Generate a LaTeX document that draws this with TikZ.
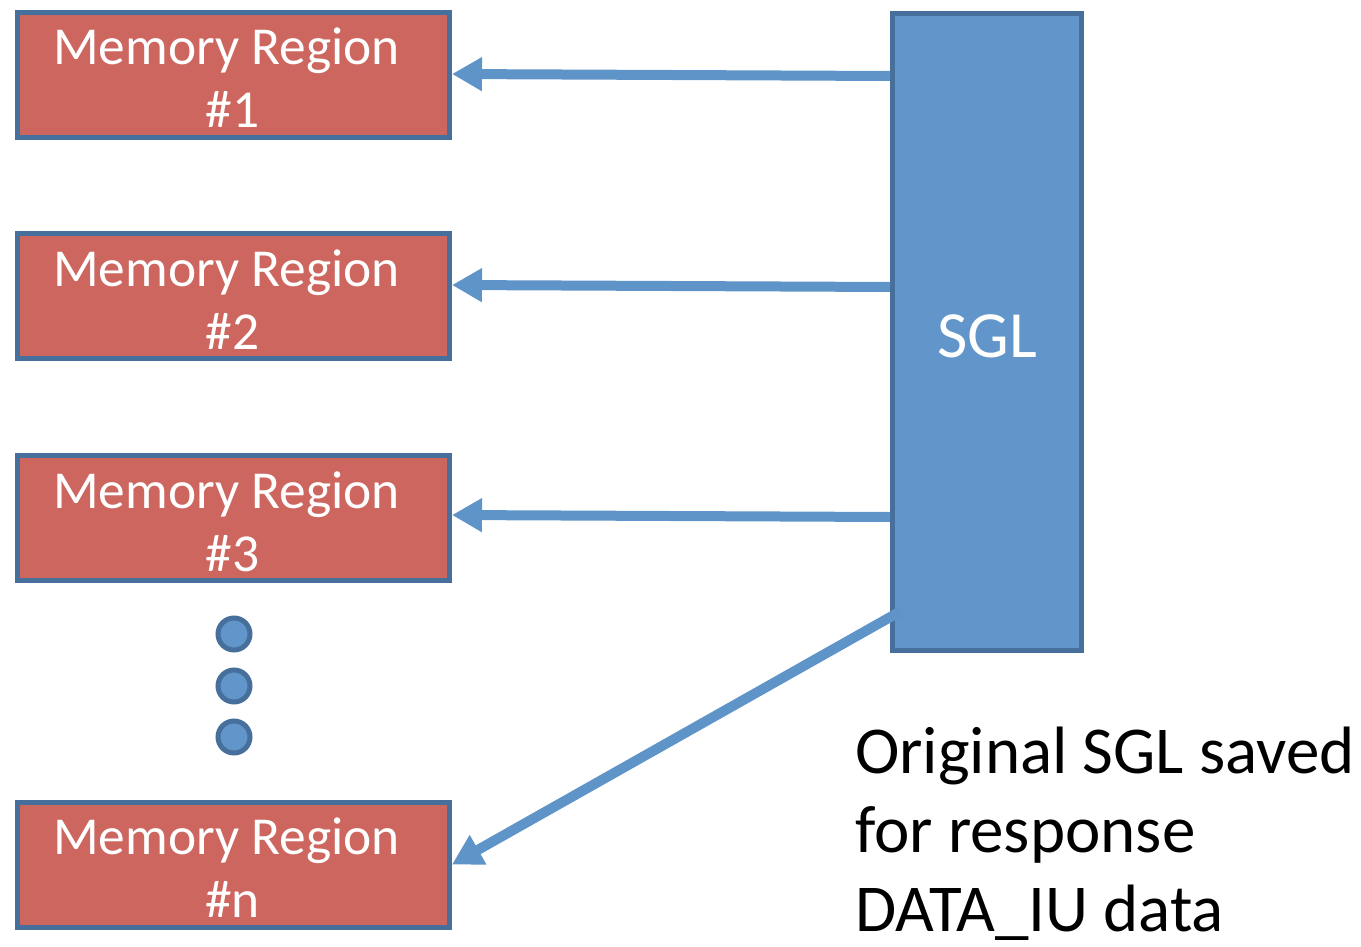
\documentclass[tikz,border=0pt]{standalone}
\usepackage{fontspec}
\setmainfont{Carlito}
\usetikzlibrary{arrows.meta}
\definecolor{mrfill}{HTML}{CD665F}
\definecolor{edgec}{HTML}{466F9C}
\definecolor{sglfill}{HTML}{6296CA}
\definecolor{arrowc}{HTML}{5F94C8}
\begin{document}
\begin{tikzpicture}[x=1pt,y=-1pt,
  mrbox/.style={draw=edgec, fill=mrfill, line width=5pt, minimum width=432pt, minimum height=125pt, inner sep=0pt},
  mrtext/.style={text=white, font=\fontsize{53.4}{63}\selectfont, anchor=base, inner sep=0pt},
  sgltext/.style={text=white, font=\fontsize{66}{78}\selectfont, anchor=base, inner sep=0pt},
  notetext/.style={text=black, font=\fontsize{67}{80}\selectfont, anchor=base west, inner sep=0pt},
  conn/.style={draw=arrowc, line width=10pt, -{Triangle[length=30pt,width=32pt]}},
  dotc/.style={circle, draw=edgec, fill=sglfill, line width=5pt, minimum size=32pt, inner sep=0pt}]
\useasboundingbox (0,0) rectangle (1361,947);

% memory region boxes
\node[mrbox] (m1) at (233.5,75) {};
\node[mrbox] (m2) at (233.5,296) {};
\node[mrbox] (m3) at (233.5,518) {};
\node[mrbox] (mn) at (233.5,864.5) {};

\node[mrtext] (m1a) at ([xshift=-7pt,yshift=10pt]m1.center) {Memory Region};
\node[mrtext] (m1b) at ([xshift=-1pt,yshift=-53pt]m1.center) {\#1};
\node[mrtext] (m2a) at ([xshift=-7pt,yshift=10pt]m2.center) {Memory Region};
\node[mrtext] (m2b) at ([xshift=-1pt,yshift=-53pt]m2.center) {\#2};
\node[mrtext] (m3a) at ([xshift=-7pt,yshift=10pt]m3.center) {Memory Region};
\node[mrtext] (m3b) at ([xshift=-1pt,yshift=-53pt]m3.center) {\#3};
\node[mrtext] (mna) at ([xshift=-7pt,yshift=10pt]mn.center) {Memory Region};
\node[mrtext] (mnb) at ([xshift=-1pt,yshift=-53pt]mn.center) {\#n};

% dots
\node[dotc] (d1) at (234,634) {};
\node[dotc] (d2) at (234,686) {};
\node[dotc] (d3) at (234,737) {};

% SGL
\node[draw=edgec, fill=sglfill, line width=5pt, minimum width=189pt, minimum height=637pt, inner sep=0pt] (sgl) at (987,332) {};
\node[sgltext] (sgllab) at (987,357) {SGL};

% connectors
\draw[conn] (sgl.west |- 0,76) -- (m1.east |- 0,74);
\draw[conn] (sgl.west |- 0,287) -- (m2.east |- 0,285);
\draw[conn] (sgl.west |- 0,517) -- (m3.east |- 0,515);
\coordinate (d0) at (901,611);
\draw[conn] (d0) -- (mn.east);

% note
\node[notetext] (n1) at (855,773) {Original SGL saved};
\node[notetext] (n2) at (855,852) {for response};
\node[notetext] (n3) at (855,931) {DATA\_IU data};
\end{tikzpicture}
\end{document}
